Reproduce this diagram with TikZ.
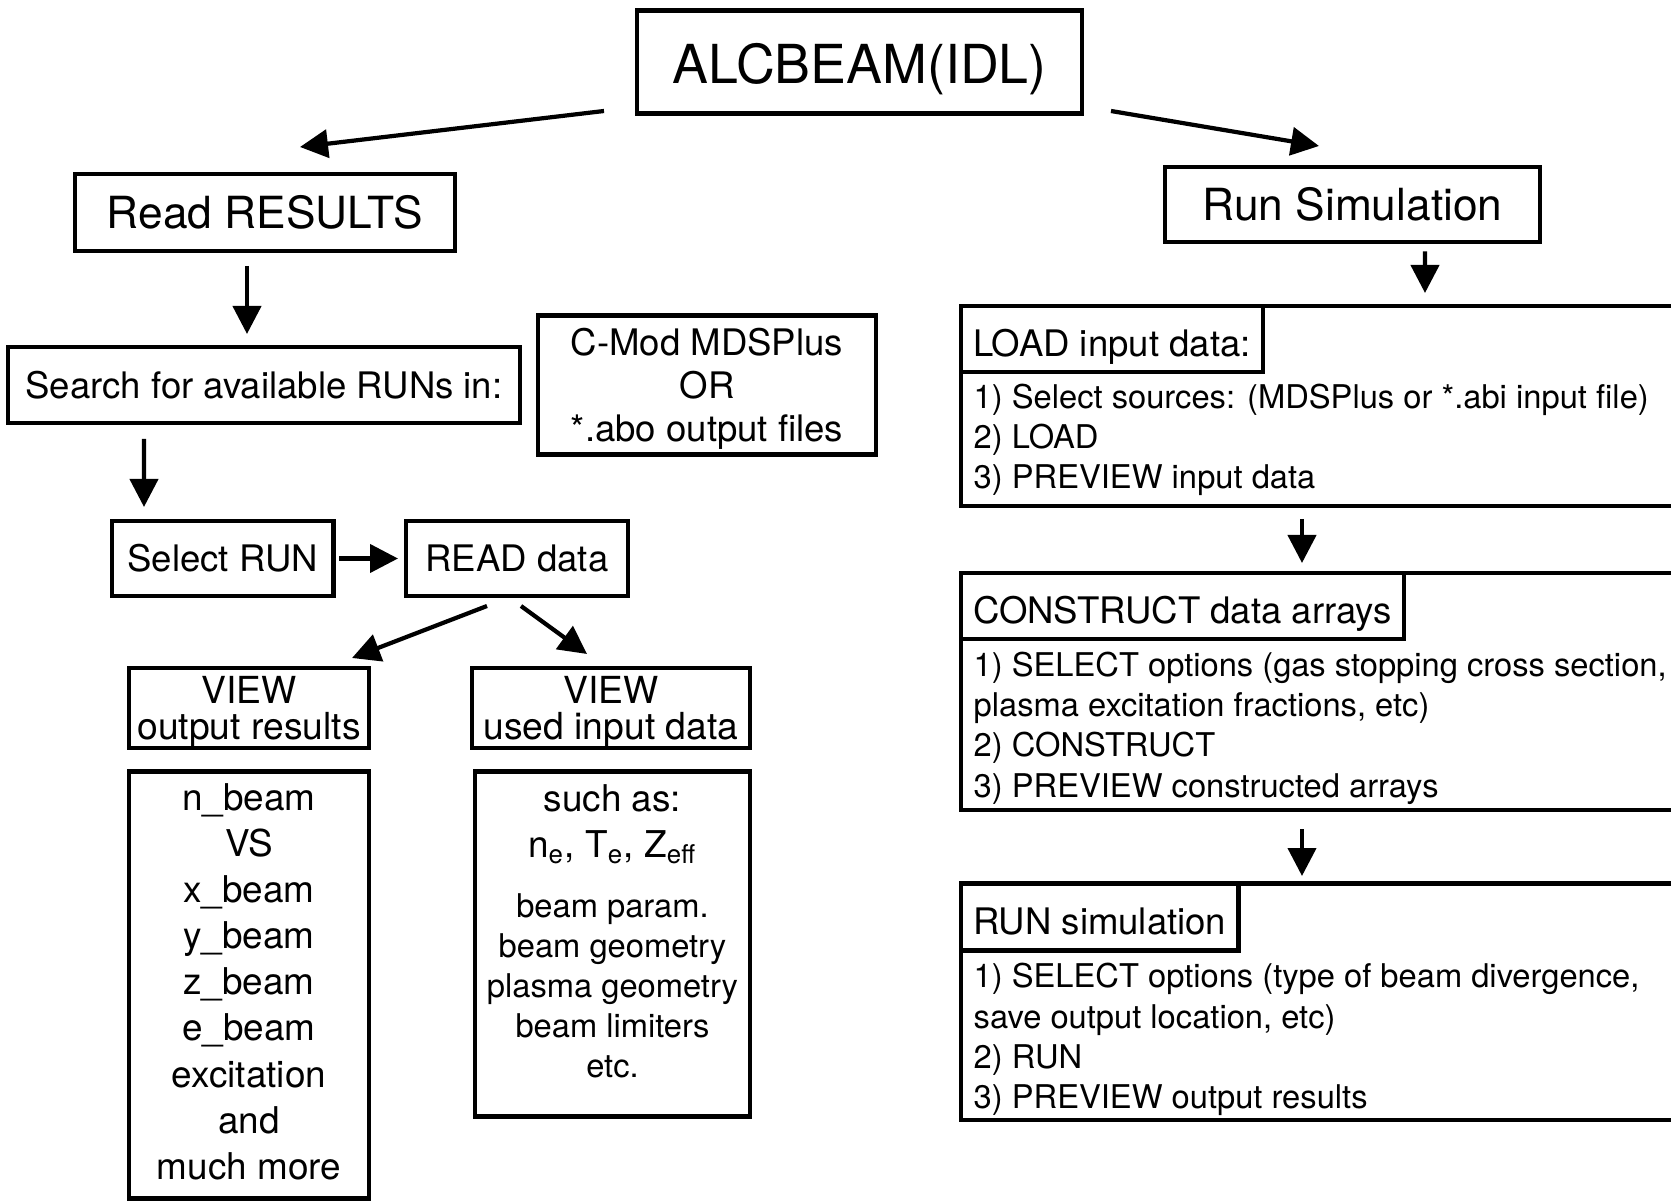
\documentclass[tikz,border=0pt]{standalone}
\usepackage{fontspec}
\setmainfont{TeX Gyre Heros}
\usetikzlibrary{arrows.meta,positioning}
\tikzset{%
	frame/.style     = {draw, rectangle, line width=1.3pt, inner sep=0pt, outer sep=0pt, align=center},
	bigtext/.style   = {font=\fontsize{15.3}{18}\selectfont, text height=12.4pt, text depth=0pt},
	headtext/.style  = {font=\fontsize{12.6}{15}\selectfont, text height=9.1pt, text depth=0pt},
	midtext/.style   = {font=\fontsize{10.4}{12.2}\selectfont},
	oneline/.style   = {midtext, text height=7.5pt, text depth=0pt},
	viewtext/.style  = {font=\fontsize{10.6}{10.2}\selectfont, text depth=-0.6pt},
	listtext/.style  = {font=\fontsize{10.5}{13.1}\selectfont, text depth=2pt},
	smalltext/.style = {font=\fontsize{9.3}{11.4}\selectfont},
	panel/.style     = {draw, rectangle, line width=1.3pt, inner sep=0pt, outer sep=0pt, minimum width=8cm, anchor=north west},
	paneltitle/.style= {draw, rectangle, line width=1.3pt, inner xsep=0.12cm, inner ysep=0pt, outer sep=0pt, anchor=north west,
		font=\fontsize{10.4}{12.2}\selectfont, text height=9.8pt, text depth=0pt},
	panelbody/.style = {inner sep=0pt, anchor=north west, align=left, font=\fontsize{9.3}{11.5}\selectfont},
	arrow/.style     = {line width=1.2pt,-{Triangle[length=2.8mm,width=2.8mm]}},
}
\newcommand{\bigline}{\fontsize{10.5}{11.4}\selectfont}
\begin{document}
\begin{tikzpicture}
	\useasboundingbox (0,0) rectangle (16.71,12.03);
	\clip (0,0) rectangle (16.71,12.03);
	
	\node[frame, bigtext, minimum width=4.45cm, minimum height=1.03cm] (alc) at (8.595,11.41) {ALCBEAM(IDL)};
	\node[frame, headtext, minimum width=3.80cm, minimum height=0.77cm] (read) at (2.65,9.905) {Read RESULTS};
	\node[frame, headtext, minimum width=3.75cm, minimum height=0.75cm] (runsim) at (13.525,9.985) {Run Simulation};
	\draw[arrow] ([xshift=-0.33cm,yshift=0.025cm]alc.south west) -- ([xshift=0.35cm,yshift=0.27cm]read.north);
	\draw[arrow] ([xshift=0.29cm,yshift=0.025cm]alc.south east) -- ([xshift=-0.335cm,yshift=0.21cm]runsim.north);
	
	% read results branch
	\node[frame, oneline, minimum width=5.12cm, minimum height=0.76cm] (search) at (2.64,8.18) {Search for available RUNs in:};
	\node[frame, midtext, text depth=-0.4pt, minimum width=3.38cm, minimum height=1.39cm] (cmod) at (7.07,8.18) {C-Mod MDSPlus\\OR\\*.abo output files};
	\node[frame, oneline, minimum width=2.215cm, minimum height=0.75cm] (select) at (2.2275,6.445) {Select RUN};
	\node[frame, oneline, minimum width=2.22cm, minimum height=0.75cm] (readdata) at (5.17,6.445) {READ data};
	\node[frame, viewtext, minimum width=2.40cm, minimum height=0.80cm] (viewout) at (2.49,4.95) {VIEW\\output results};
	\node[frame, viewtext, minimum width=2.78cm, minimum height=0.80cm] (viewused) at (6.11,4.95) {VIEW\\used input data};
	\node[frame, listtext, minimum width=2.40cm, minimum height=4.275cm] (outlist) at (2.49,2.18)
		{n\_beam\\VS\\x\_beam\\y\_beam\\z\_beam\\e\_beam\\excitation\\and\\much more};
	\node[frame, minimum width=2.75cm, minimum height=3.455cm] (inlist) at (6.125,2.59) {};
	\node[smalltext, align=center, inner sep=0pt, anchor=north] (inlisttxt) at ([yshift=-0.125cm]inlist.north)
		{{\bigline such as:}\\[0.06cm] {\bigline n\textsubscript{e}, T\textsubscript{e}, Z\textsubscript{eff}}\\[0.2cm] beam param.\\beam geometry\\plasma geometry\\beam limiters\\etc.};
	
	\draw[arrow, shorten <=0.15cm, shorten >=0.13cm] ([xshift=-0.18cm]read.south) -- ([xshift=-0.17cm]search.north);
	\draw[arrow, shorten <=0.16cm, shorten >=0.14cm] ([xshift=-1.20cm]search.south) -- ([xshift=-0.7875cm]select.north);
	\draw[arrow, shorten <=0.055cm, shorten >=0.08cm] (select) -- (readdata);
	\draw[arrow] ([xshift=-0.30cm,yshift=-0.10cm]readdata.south) -- ([xshift=1.03cm,yshift=0.10cm]viewout.north);
	\draw[arrow] ([xshift=0.04cm,yshift=-0.10cm]readdata.south) -- ([xshift=-0.24cm,yshift=0.14cm]viewused.north);
	
	% run simulation branch
	\node[panel, minimum height=2.00cm] (loadpanel) at (9.61,8.97) {};
	\node[paneltitle, minimum height=0.66cm] (loadtitle) at (loadpanel.north west) {LOAD input data:};
	\node[panelbody] (loadbody) at ([xshift=0.12cm,yshift=-0.11cm]loadtitle.south west)
		{1) Select sources: (MDSPlus or *.abi input file)\\2) LOAD\\3) PREVIEW input data};
	
	\node[panel, minimum height=2.37cm] (conpanel) at (9.61,6.30) {};
	\node[paneltitle, minimum height=0.66cm] (contitle) at (conpanel.north west) {CONSTRUCT data arrays};
	\node[panelbody] (conbody) at ([xshift=0.12cm,yshift=-0.12cm]contitle.south west)
		{1) SELECT options (gas stopping cross section,\\plasma excitation fractions, etc)\\2) CONSTRUCT\\3) PREVIEW constructed arrays};
	
	\node[panel, minimum height=2.365cm] (runpanel) at (9.61,3.195) {};
	\node[paneltitle, minimum height=0.67cm] (runtitle) at (runpanel.north west) {RUN simulation};
	\node[panelbody] (runbody) at ([xshift=0.12cm,yshift=-0.12cm]runtitle.south west)
		{1) SELECT options (type of beam divergence,\\save output location, etc)\\2) RUN\\3) PREVIEW output results};
	
	\draw[arrow, shorten <=0.095cm, shorten >=0.13cm] ([xshift=0.725cm]runsim.south) -- ([xshift=4.64cm]loadpanel.north west);
	\draw[arrow, shorten <=0.13cm, shorten >=0.10cm] ([xshift=3.41cm]loadpanel.south west) -- ([xshift=3.41cm]conpanel.north west);
	\draw[arrow, shorten <=0.19cm, shorten >=0.075cm] ([xshift=3.41cm]conpanel.south west) -- ([xshift=3.41cm]runpanel.north west);
\end{tikzpicture}
\end{document}
